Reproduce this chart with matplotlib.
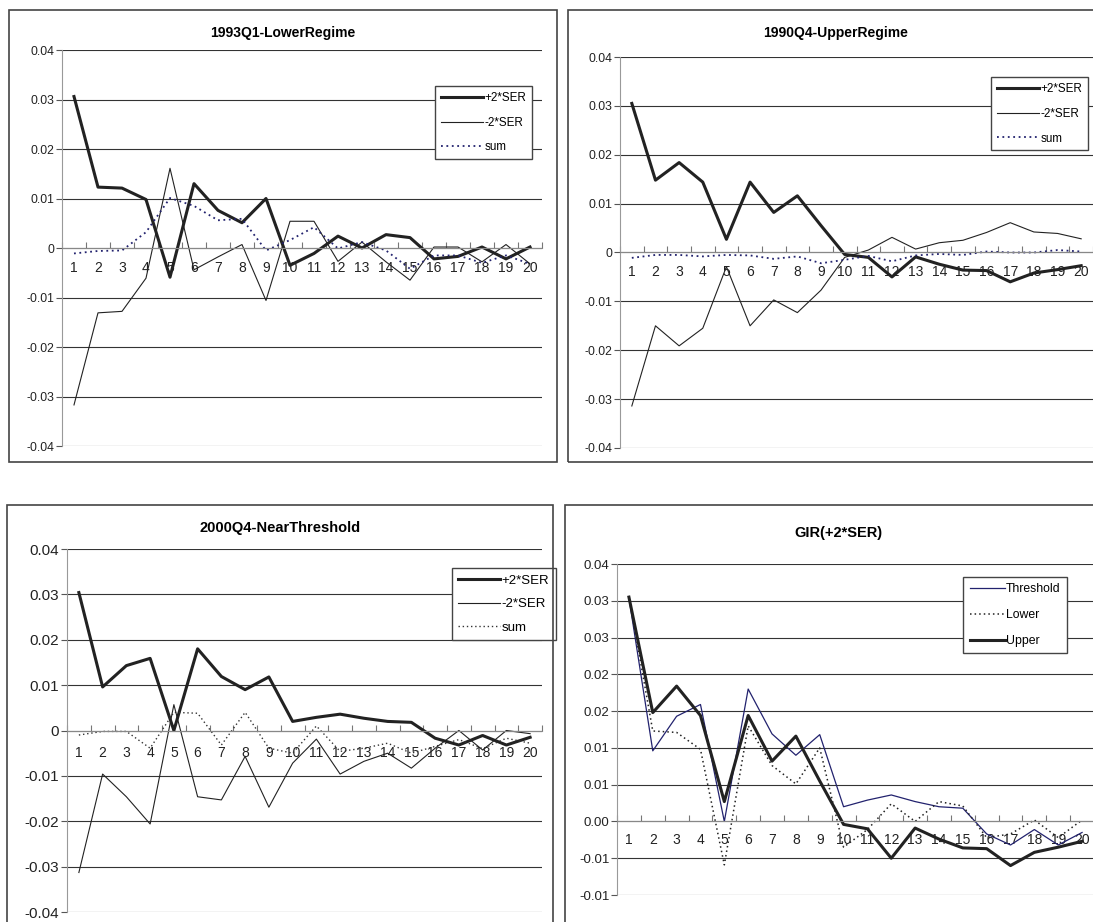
import numpy as np
import matplotlib
matplotlib.use("Agg")
import matplotlib.pyplot as plt
from matplotlib.patches import Rectangle

plt.rcParams['font.family'] = ['Liberation Sans', 'DejaVu Sans']

horizons = list(range(1, 21))
horizon_labels = [str(h) for h in horizons]

# 1993Q1 - lower regime
lower_plus = [0.0306, 0.0123, 0.0121, 0.0098, -0.0059, 0.0130, 0.0076, 0.0051, 0.0100, -0.0035,
              -0.0011, 0.0024, 0.0000, 0.0027, 0.0021, -0.0022, -0.0017, 0.0002, -0.0022, 0.0002]
lower_minus = [-0.0317, -0.0131, -0.0128, -0.0061, 0.0161, -0.0044, -0.0018, 0.0007, -0.0106, 0.0054,
               0.0054, -0.0027, 0.0012, -0.0028, -0.0065, 0.0002, 0.0002, -0.0028, 0.0007, -0.0032]
lower_sum = [-0.0011, -0.0006, -0.0005, 0.0032, 0.0101, 0.0085, 0.0056, 0.0059, -0.0005, 0.0016,
             0.0042, -0.0001, 0.0012, -0.0005, -0.0042, -0.0015, -0.0015, -0.0030, -0.0015, -0.0032]

# 1990Q4 - upper regime
upper_plus = [0.0305, 0.0148, 0.0184, 0.0144, 0.0027, 0.0144, 0.0082, 0.0116, 0.0055, -0.0004,
              -0.0010, -0.0050, -0.0009, -0.0024, -0.0036, -0.0037, -0.0060, -0.0042, -0.0035, -0.0027]
upper_minus = [-0.0314, -0.0150, -0.0191, -0.0155, -0.0029, -0.0150, -0.0097, -0.0123, -0.0077, -0.0010,
               0.0005, 0.0031, 0.0007, 0.0020, 0.0025, 0.0041, 0.0061, 0.0042, 0.0039, 0.0028]
upper_sum = [-0.0011, -0.0005, -0.0005, -0.0008, -0.0005, -0.0006, -0.0013, -0.0008, -0.0022, -0.0015,
             -0.0007, -0.0018, -0.0006, -0.0003, -0.0005, 0.0002, 0.0000, 0.0000, 0.0005, 0.0002]

# 2000Q4 - near threshold
near_plus = [0.0304, 0.0096, 0.0143, 0.0159, 0.0000, 0.0180, 0.0119, 0.0090, 0.0118, 0.0020,
             0.0029, 0.0036, 0.0027, 0.0020, 0.0018, -0.0017, -0.0032, -0.0011, -0.0032, -0.0015]
near_minus = [-0.0313, -0.0096, -0.0146, -0.0206, 0.0057, -0.0146, -0.0153, -0.0057, -0.0169, -0.0072,
              -0.0019, -0.0096, -0.0068, -0.0050, -0.0083, -0.0039, 0.0000, -0.0043, 0.0000, -0.0007]
near_sum = [-0.0010, -0.0002, -0.0002, -0.0039, 0.0040, 0.0038, -0.0032, 0.0040, -0.0039, -0.0050,
            0.0010, -0.0046, -0.0039, -0.0028, -0.0050, -0.0035, -0.0020, -0.0040, -0.0017, -0.0028]

band_ticks = [-0.04, -0.03, -0.02, -0.01, 0.0, 0.01, 0.02, 0.03, 0.04]
band_ticklabels = ['-0.04', '-0.03', '-0.02', '-0.01', '0', '0.01', '0.02', '0.03', '0.04']
gir_ticks = [-0.01, -0.005, 0.0, 0.005, 0.01, 0.015, 0.02, 0.025, 0.03, 0.035]
gir_ticklabels = ['-0.01', '-0.01', '0.00', '0.01', '0.01', '0.02', '0.02', '0.03', '0.03', '0.04']

W, H = 1093, 922
fig = plt.figure(figsize=(W / 100, H / 100), dpi=100)

THICK = '#222222'
NAVY = '#22226e'


def px_axes(x0, y0, x1, y1):
    return fig.add_axes([x0 / W, 1 - y1 / H, (x1 - x0) / W, (y1 - y0) / H])


def px_box(x0, y0, x1, y1):
    fig.add_artist(Rectangle((x0 / W, 1 - y1 / H), (x1 - x0) / W, (y1 - y0) / H,
                             transform=fig.transFigure, fill=False, edgecolor='#444444', lw=1.2))


def style_axes(ax, ticks, ticklabels, ysize, xsize, xpad):
    ax.set_xlim(0.5, 20.5)
    ax.set_ylim(ticks[0], ticks[-1])
    ax.set_yticks(ticks)
    ax.set_yticklabels(ticklabels, fontsize=ysize)
    ax.set_xticks(horizons)
    ax.set_xticklabels(horizon_labels, fontsize=xsize)
    ax.set_xticks(np.arange(0.5, 21, 1), minor=True)
    ax.tick_params(axis='x', which='major', length=0, pad=xpad, colors='#222222')
    ax.tick_params(axis='x', which='minor', direction='in', length=4, color='#777777', width=0.8)
    ax.tick_params(axis='y', length=4, width=0.8, color='#555555', pad=1.5, colors='#222222')
    for s in ['top', 'right']:
        ax.spines[s].set_visible(False)
    ax.spines['bottom'].set_position(('data', 0))
    ax.spines['bottom'].set_color('#888888')
    ax.spines['bottom'].set_zorder(3)
    ax.spines['left'].set_color('#999999')
    ax.yaxis.grid(True, color='#333333', lw=0.8)
    ax.set_axisbelow(True)
    ax.patch.set_visible(False)


def add_legend(ax, right, top, fsize, hlen, spacing):
    leg = ax.legend(loc='upper right', bbox_to_anchor=(right / W, 1 - top / H),
                    bbox_transform=fig.transFigure, borderaxespad=0, fontsize=fsize,
                    handlelength=hlen, handletextpad=0.1, labelspacing=spacing,
                    fancybox=False, framealpha=1, edgecolor='#444444', borderpad=0.5)
    leg.get_frame().set_linewidth(1.0)
    return leg


# panel boxes
px_box(9, 10, 557, 462)
px_box(568, 10, 1100, 462)
px_box(7, 505, 553, 935)
px_box(565, 505, 1100, 935)

# top-left
ax1 = px_axes(62, 50, 542, 446)
style_axes(ax1, band_ticks, band_ticklabels, 8.8, 10, 9)
ax1.plot(horizons, lower_plus, color=THICK, lw=2.2, label='+2*SER')
ax1.plot(horizons, lower_minus, color=THICK, lw=0.8, label='-2*SER')
ax1.plot(horizons, lower_sum, color=NAVY, lw=1.3, ls=(0, (1, 2)), label='sum')
fig.text(283 / W, 1 - 33 / H, '1993Q1-LowerRegime', ha='center', va='center',
         fontsize=10, fontweight='bold')
add_legend(ax1, 532, 86, 8.4, 3.6, 1.1)

# top-right
ax2 = px_axes(620, 57, 1093, 448)
style_axes(ax2, band_ticks, band_ticklabels, 8.8, 10, 9)
ax2.plot(horizons, upper_plus, color=THICK, lw=2.2, label='+2*SER')
ax2.plot(horizons, upper_minus, color=THICK, lw=0.8, label='-2*SER')
ax2.plot(horizons, upper_sum, color=NAVY, lw=1.3, ls=(0, (1, 2)), label='sum')
fig.text(836 / W, 1 - 33 / H, '1990Q4-UpperRegime', ha='center', va='center',
         fontsize=10, fontweight='bold')
add_legend(ax2, 1088, 77, 8.4, 3.6, 1.1)

# bottom-left
ax3 = px_axes(67, 549, 542, 912)
style_axes(ax3, band_ticks, band_ticklabels, 11, 11, 11)
ax3.plot(horizons, near_plus, color=THICK, lw=2.2, label='+2*SER')
ax3.plot(horizons, near_minus, color=THICK, lw=0.8, label='-2*SER')
ax3.plot(horizons, near_sum, color='#333333', lw=1.0, ls=(0, (1, 2)), label='sum')
fig.text(280 / W, 1 - 528 / H, '2000Q4-NearThreshold', ha='center', va='center',
         fontsize=10.5, fontweight='bold')
add_legend(ax3, 556, 568, 9.5, 3.2, 0.85)

# bottom-right
ax4 = px_axes(617, 564, 1094, 895)
style_axes(ax4, gir_ticks, gir_ticklabels, 9.5, 11, 8)
ax4.plot(horizons, near_plus, color=NAVY, lw=0.9, label='Threshold')
ax4.plot(horizons, lower_plus, color='#222222', lw=1.1, ls=(0, (1, 2)), label='Lower')
ax4.plot(horizons, upper_plus, color=THICK, lw=2.2, label='Upper')
fig.text(838 / W, 1 - 533 / H, 'GIR(+2*SER)', ha='center', va='center',
         fontsize=10.5, fontweight='bold')
add_legend(ax4, 1067, 577, 8.8, 2.9, 1.15)

fig.savefig('out.png', dpi=100)
